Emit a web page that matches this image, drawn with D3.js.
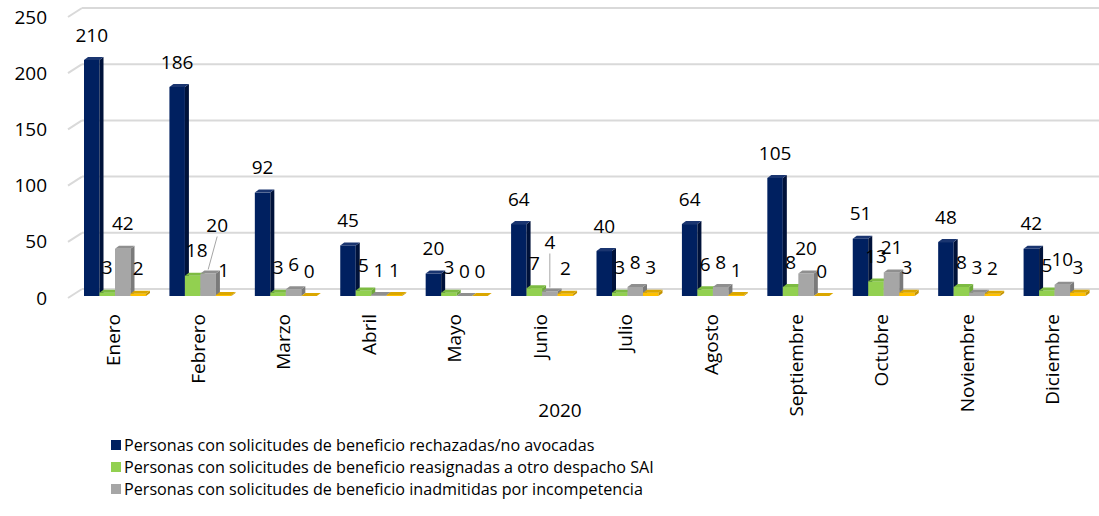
<!DOCTYPE html>
<meta charset="utf-8">
<body style="margin:0;background:#fff">
<script src="https://d3js.org/d3.v7.min.js"></script>
<script>

var months = ["Enero", "Febrero", "Marzo", "Abril", "Mayo", "Junio", "Julio",
    "Agosto", "Septiembre", "Octubre", "Noviembre", "Diciembre"];
var seriesNames = [
    "Personas con solicitudes de beneficio rechazadas/no avocadas",
    "Personas con solicitudes de beneficio reasignadas a otro despacho SAI",
    "Personas con solicitudes de beneficio inadmitidas por incompetencia",
    "Otras"];
var rechazadas  = [210, 186, 92, 45, 20, 64, 40, 64, 105, 51, 48, 42];
var reasignadas = [3, 18, 3, 5, 3, 7, 3, 6, 8, 13, 8, 5];
var inadmitidas = [42, 20, 6, 1, 0, 4, 8, 8, 20, 21, 3, 10];
var otras       = [2, 1, 0, 1, 0, 2, 3, 1, 0, 3, 2, 3];
var yTicks = [0, 50, 100, 150, 200, 250];
var axisTitle = "2020";

var width = 1099, height = 516,
    font = "'Open Sans', sans-serif";

var colors = [
    {front: "#002060", side: "#00123a", top: "#1a3570"},
    {front: "#92d050", side: "#6ea83a", top: "#7dbb42"},
    {front: "#a6a6a6", side: "#7a7a7a", top: "#8f8f8f"},
    {front: "#ffc000", side: "#c49300", top: "#dba700"}];

var allSeries = [rechazadas, reasignadas, inadmitidas, otras];

var svg = d3.select("body").append("svg")
    .attr("width", width)
    .attr("height", height)
    .style("font-family", font);

var x = d3.scaleBand().domain(months).range([76, 1101]);
var xs = d3.scaleBand().domain(d3.range(4)).range([8, 70]);
var yBack = d3.scaleLinear().domain([0, 250]).range([289, 8]);
var yBar = d3.scaleLinear().domain([0, 250]).range([296, 15]);
var dx = 4, dy = 3;     // bar depth
var wx = 14, wy = 9;    // side wall depth

// gridlines (back wall + left wall)
var grid = svg.append("g");
yTicks.forEach(function(t) {
    grid.append("line")
        .attr("x1", 82).attr("x2", width)
        .attr("y1", yBack(t)).attr("y2", yBack(t))
        .attr("stroke", "#d9d9d9").attr("stroke-width", 2);
    grid.append("line")
        .attr("x1", 82 - wx).attr("x2", 82)
        .attr("y1", yBack(t) + wy).attr("y2", yBack(t))
        .attr("stroke", "#d9d9d9").attr("stroke-width", 2);
    svg.append("text")
        .attr("x", 47).attr("y", yBack(t) + wy)
        .attr("dy", "0.35em")
        .attr("text-anchor", "end")
        .style("font-size", "19px")
        .attr("fill", "#000")
        .text(t);
});

// bars
var bars = [];
months.forEach(function(m, i) {
    allSeries.forEach(function(s, j) {
        bars.push({month: m, s: j, value: s[i]});
    });
});

var g = svg.selectAll(".bar")
    .data(bars)
    .enter().append("g")
    .attr("class", "bar");

function pts(a) { return a.map(function(p) { return p.join(","); }).join(" "); }

g.each(function(d) {
    var el = d3.select(this),
        x0 = x(d.month) + xs(d.s),
        w = xs.bandwidth(),
        y0 = yBar(0),
        y1 = yBar(d.value),
        c = colors[d.s];
    el.append("rect")
        .attr("x", x0).attr("y", y1)
        .attr("width", w).attr("height", y0 - y1)
        .attr("fill", c.front);
    el.append("polygon")
        .attr("points", pts([[x0 + w, y1], [x0 + w + dx, y1 - dy], [x0 + w + dx, y0 - dy], [x0 + w, y0]]))
        .attr("fill", c.side);
    el.append("polygon")
        .attr("points", pts([[x0, y1], [x0 + dx, y1 - dy], [x0 + w + dx, y1 - dy], [x0 + w, y1]]))
        .attr("fill", c.top);
});

// data labels (some moved, with leader lines)
var moved = [
    {month: "Febrero", s: 1, dx: 4, dy: 0},
    {month: "Febrero", s: 2, dx: 9, dy: -23},
    {month: "Junio", s: 2, dx: 0, dy: -24}];

bars.forEach(function(d) {
    var cx = x(d.month) + xs(d.s) + xs.bandwidth() / 2,
        cy = yBar(d.value) - 25,
        mv = moved.find(function(o) { return o.month === d.month && o.s === d.s; });
    if (mv) {
        if (mv.dy) {
            svg.append("line")
                .attr("x1", cx + mv.dx).attr("y1", cy + mv.dy + 11)
                .attr("x2", cx).attr("y2", yBar(d.value) - 4)
                .attr("stroke", "#a6a6a6").attr("stroke-width", 1);
        }
        cx += mv.dx; cy += mv.dy;
    }
    svg.append("text")
        .attr("x", cx).attr("y", cy)
        .attr("dy", "0.35em")
        .attr("text-anchor", "middle")
        .style("font-size", "19px")
        .attr("fill", "#000")
        .text(d.value);
});

// month labels
months.forEach(function(m) {
    svg.append("text")
        .attr("transform", "translate(" + (x(m) + 37) + ",314) rotate(-90)")
        .attr("dy", "0.35em")
        .attr("text-anchor", "end")
        .style("font-size", "19px")
        .attr("fill", "#000")
        .text(m);
});

svg.append("text")
    .attr("x", 560).attr("y", 410)
    .attr("dy", "0.35em")
    .attr("text-anchor", "middle")
    .style("font-size", "19px")
    .attr("fill", "#000")
    .text(axisTitle);

// legend (first three series)
var legend = svg.selectAll(".legend")
    .data(seriesNames.slice(0, 3))
    .enter().append("g")
    .attr("class", "legend")
    .attr("transform", function(d, i) { return "translate(111," + (445 + i * 22) + ")"; });

legend.append("rect")
    .attr("x", 0).attr("y", -5)
    .attr("width", 10).attr("height", 10)
    .attr("fill", function(d, i) { return colors[i].front; });

legend.append("text")
    .attr("transform", "translate(13,0) scale(0.95,1)")
    .attr("dy", "0.35em")
    .style("font-size", "17px")
    .attr("fill", "#000")
    .text(function(d) { return d; });

</script>
